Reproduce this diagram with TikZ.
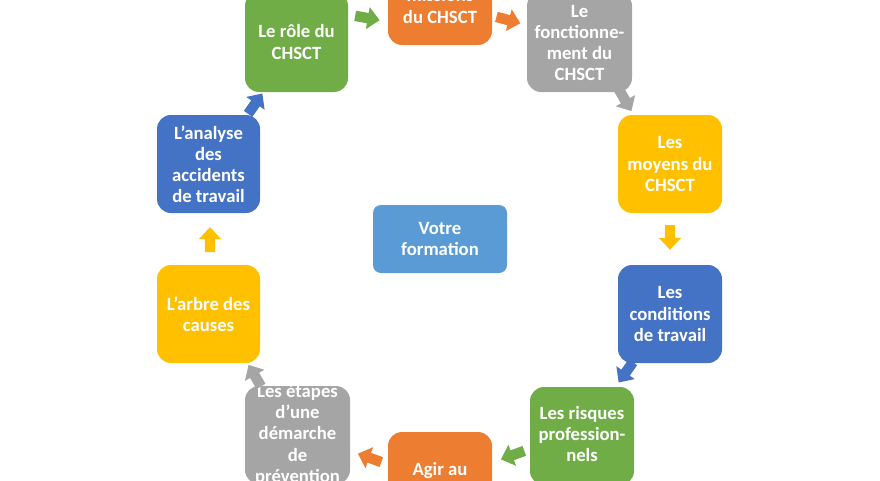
\documentclass[tikz,border=0pt]{standalone}
\usepackage{fontspec}
\setmainfont{Carlito}
\definecolor{cg}{HTML}{70AD47}
\definecolor{co}{HTML}{ED7D31}
\definecolor{cgr}{HTML}{A5A5A5}
\definecolor{cy}{HTML}{FFC000}
\definecolor{cb}{HTML}{4472C4}
\definecolor{clb}{HTML}{5B9BD5}
\begin{document}
\begin{tikzpicture}[x=0.025cm,y=-0.025cm,
 box/.style={text=white,font=\bfseries\fontsize{13.3}{15}\selectfont,align=center,inner sep=0pt},
 arr/.style={coordinate}]
\newcommand\blockarrow[3]{% node name, colour, angle (math, counterclockwise)
 \begin{scope}[shift={(#1)},x=1cm,y=1cm,rotate=#3]
  \fill[#2] (-0.3,-0.13) -- (0.02,-0.13) -- (0.02,-0.28) -- (0.32,0) -- (0.02,0.28) -- (0.02,0.13) -- (-0.3,0.13) -- cycle;
 \end{scope}}
\useasboundingbox (0,0) rectangle (880,480);
\clip (0,0) rectangle (880,480);
\fill[cg,rounded corners=0.35cm] (245,-8) rectangle (348,92);
\node[box] (role) at (296.5,42) {Le rôle du\\CHSCT};
\fill[co,rounded corners=0.35cm] (388,-60) rectangle (492,45);
\node[box] (miss) at (440,-4) {Les\\missions\\du CHSCT};
\fill[cgr,rounded corners=0.35cm] (527,-8) rectangle (632,92);
\node[box] (fonc) at (579.5,43) {Le\\fonctionne-\\ment du\\CHSCT};
\fill[cy,rounded corners=0.35cm] (618,115) rectangle (722,213);
\node[box] (moy) at (670,164) {Les\\moyens du\\CHSCT};
\fill[cb,rounded corners=0.35cm] (618,265) rectangle (722,363);
\node[box] (cond) at (670,314) {Les\\conditions\\de travail};
\fill[cg,rounded corners=0.35cm] (530,387) rectangle (634,485);
\node[box] (risq) at (582,434) {Les risques\\profession-\\nels};
\fill[co,rounded corners=0.35cm] (388,432) rectangle (492,530);
\node[box] (agir) at (440,481) {Agir au\\quotidien};
\fill[cgr,rounded corners=0.35cm] (245,386) rectangle (350,484);
\node[box] (etap) at (297.5,435) {Les étapes\\d’une\\démarche\\de\\prévention};
\fill[cy,rounded corners=0.35cm] (157,265) rectangle (260,363);
\node[box] (arbre) at (208.5,314) {L’arbre des\\causes};
\fill[cb,rounded corners=0.35cm] (157,115) rectangle (260,213);
\node[box] (anal) at (208.5,164) {L’analyse\\des\\accidents\\de travail};
\fill[clb,rounded corners=0.2cm] (373,205) rectangle (507,273);
\node[box] (form) at (440,239) {Votre\\formation};
\coordinate (a1) at (367,18); \blockarrow{a1}{cg}{-10}
\coordinate (a2) at (508,20); \blockarrow{a2}{co}{-15}
\coordinate (a3) at (625,100); \blockarrow{a3}{cgr}{-60}
\coordinate (a4) at (670,237); \blockarrow{a4}{cy}{-90}
\coordinate (a5) at (626,372); \blockarrow{a5}{cb}{-125}
\coordinate (a6) at (513,455); \blockarrow{a6}{cg}{-160}
\coordinate (a7) at (370,458); \blockarrow{a7}{co}{160}
\coordinate (a8) at (255,376); \blockarrow{a8}{cgr}{120}
\coordinate (a9) at (210,240); \blockarrow{a9}{cy}{90}
\coordinate (a10) at (255,104); \blockarrow{a10}{cb}{55}
\end{tikzpicture}
\end{document}
